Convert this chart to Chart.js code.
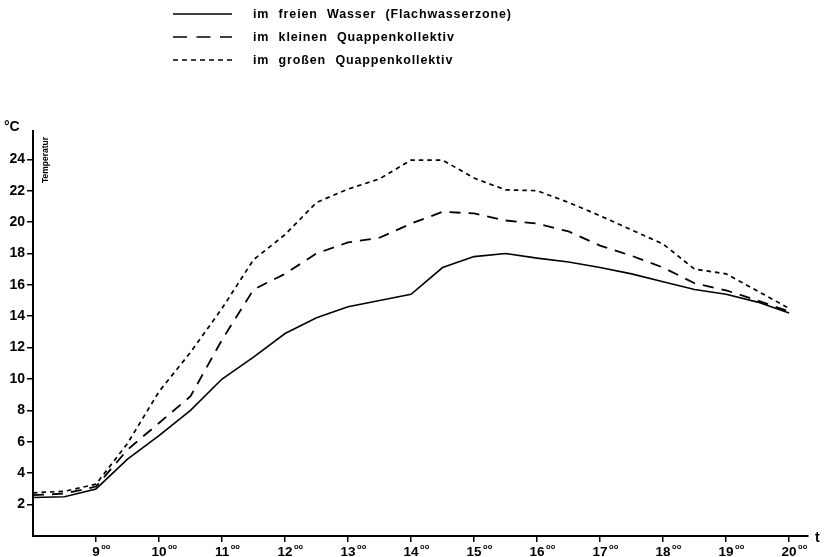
<!DOCTYPE html>
<html>
<head>
<meta charset="utf-8">
<script src="https://cdn.jsdelivr.net/npm/chart.js@4/dist/chart.umd.min.js"></script>
<style>
html,body{margin:0;padding:0;background:#fff;}
#wrap{width:827px;height:557px;position:relative;}
</style>
</head>
<body>
<div id="wrap"><canvas id="c" width="827" height="557"></canvas></div>
<script>
// ---- data ----
const times = [8,8.5,9,9.5,10,10.5,11,11.5,12,12.5,13,13.5,14,14.5,15,15.5,16,16.5,17,17.5,18,18.5,19,19.5,20];
const freiesWasser = [2.45,2.5,3.0,4.9,6.4,8.0,10.0,11.4,12.9,13.9,14.6,15.0,15.4,17.1,17.8,18.0,17.7,17.45,17.1,16.7,16.2,15.7,15.4,14.9,14.2];
const kleinesKollektiv = [2.6,2.7,3.15,5.5,7.2,8.9,12.5,15.7,16.7,18.0,18.7,19.0,19.9,20.65,20.55,20.1,19.9,19.4,18.5,17.85,17.1,16.1,15.65,15.0,14.3];
const grossesKollektiv = [2.75,2.85,3.3,5.9,9.2,11.7,14.5,17.6,19.2,21.25,22.1,22.75,23.95,23.95,22.8,22.05,22.0,21.25,20.4,19.5,18.6,17.0,16.7,15.6,14.5];
const seriesNames = ['im freien Wasser (Flachwasserzone)','im kleinen Quappenkollektiv','im großen Quappenkollektiv'];
const xTicks = [9,10,11,12,13,14,15,16,17,18,19,20];
const yTicks = [2,4,6,8,10,12,14,16,18,20,22,24];
const yUnit = '°C';
const yTitle = 'Temperatur';
const xTitle = 't';

const FONT = 'Liberation Sans, Arial, Helvetica, sans-serif';
Chart.defaults.font.family = FONT;

const dashes = [[], [11, 8], [4.5, 4]];
const legendDashes = [[], [14, 9.5], [5, 4]];

function pts(arr){ return times.map((t,i)=>({x:t, y:arr[i]})); }

const decor = {
  id: 'decor',
  afterDraw(chart){
    const ctx = chart.ctx;
    const xs = chart.scales.x;
    ctx.save();
    ctx.fillStyle = '#000';
    ctx.strokeStyle = '#000';
    // legend
    const rowsY = [14, 37, 60];
    for (let i = 0; i < 3; i++) {
      ctx.lineWidth = 1.7;
      ctx.setLineDash(legendDashes[i]);
      ctx.beginPath();
      ctx.moveTo(173, rowsY[i]);
      ctx.lineTo(232, rowsY[i]);
      ctx.stroke();
      ctx.setLineDash([]);
      ctx.font = 'bold 12.5px ' + FONT;
      ctx.letterSpacing = '0.85px';
      ctx.wordSpacing = '5px';
      ctx.textAlign = 'left';
      ctx.textBaseline = 'middle';
      ctx.fillText(seriesNames[i], 253, rowsY[i] + 1);
    }
    ctx.letterSpacing = '0px';
    ctx.wordSpacing = '0px';
    // unit
    ctx.font = 'bold 14px ' + FONT;
    ctx.textAlign = 'left';
    ctx.textBaseline = 'alphabetic';
    ctx.fillText(yUnit, 4, 131);
    // t
    ctx.fillText(xTitle, 815, 542);
    // Temperatur
    ctx.save();
    ctx.translate(48, 160);
    ctx.rotate(-Math.PI/2);
    ctx.font = 'bold 8.5px ' + FONT;
    ctx.textAlign = 'center';
    ctx.textBaseline = 'alphabetic';
    ctx.fillText(yTitle, 0, 0);
    ctx.restore();
    // x tick labels with superscript
    for (const v of xTicks) {
      const px = xs.getPixelForValue(v);
      const main = String(v);
      ctx.font = 'bold 13.5px ' + FONT;
      const w = ctx.measureText(main).width;
      ctx.textAlign = 'left';
      ctx.textBaseline = 'alphabetic';
      ctx.fillText(main, px - w/2, 556);
      ctx.font = 'bold 7.5px ' + FONT;
      ctx.fillText('oo', px + w/2 + 1.5, 549);
    }
    ctx.restore();
  }
};

new Chart(document.getElementById('c'), {
  type: 'line',
  data: {
    datasets: [
      {label: seriesNames[0], data: pts(freiesWasser), borderColor:'#000', borderWidth:1.6, borderDash: dashes[0], pointRadius:0, tension:0, fill:false},
      {label: seriesNames[1], data: pts(kleinesKollektiv), borderColor:'#000', borderWidth:1.8, borderDash: dashes[1], pointRadius:0, tension:0, fill:false},
      {label: seriesNames[2], data: pts(grossesKollektiv), borderColor:'#000', borderWidth:1.7, borderDash: dashes[2], pointRadius:0, tension:0, fill:false}
    ]
  },
  options: {
    responsive: false,
    animation: false,
    events: [],
    layout: {padding: {top: 131, right: 19, bottom: 0, left: 0}},
    plugins: {legend: {display:false}, tooltip: {enabled:false}, title:{display:false}},
    scales: {
      x: {
        type: 'linear', min: 8, max: 20.3,
        afterBuildTicks: s => { s.ticks = xTicks.map(v => ({value: v})); },
        afterFit: s => { s.height = 21; },
        grid: {drawOnChartArea:false, drawTicks:true, tickLength:6, color:'#000', lineWidth:1.5},
        border: {display:true, color:'#000', width:2},
        ticks: {display:false}
      },
      y: {
        min: 0, max: 25.8,
        afterBuildTicks: s => { s.ticks = yTicks.map(v => ({value: v})); },
        afterFit: s => { s.width = 33; },
        grid: {drawOnChartArea:false, drawTicks:true, tickLength:6, color:'#000', lineWidth:1.5},
        border: {display:true, color:'#000', width:2},
        ticks: {color:'#000', padding:2, font:{family:FONT, weight:'bold', size:14}}
      }
    }
  },
  plugins: [decor]
});
</script>
</body>
</html>
